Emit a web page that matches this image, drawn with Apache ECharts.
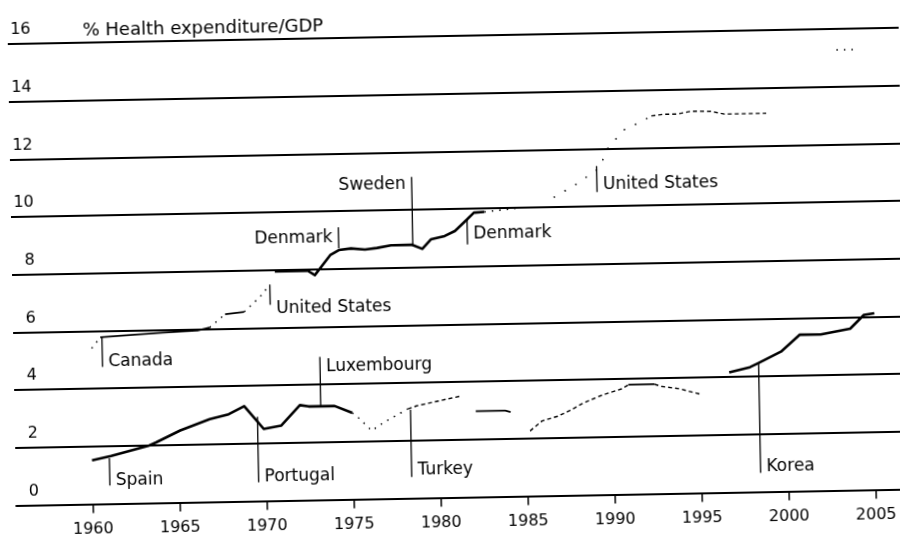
<!DOCTYPE html>
<html>
<head>
<meta charset="utf-8">
<script src="https://cdn.jsdelivr.net/npm/echarts@6/dist/echarts.min.js"></script>
<style>
html,body{margin:0;padding:0;background:#fff;overflow:hidden;width:900px;height:538px;}
#c{position:absolute;left:0;top:0;width:920px;height:538px;transform:rotate(-1.05deg);transform-origin:450px 269px;}
</style>
</head>
<body>
<div id="c"></div>
<script>
// ---- data (year, % of GDP) ----
const tickYears = [1960, 1965, 1970, 1975, 1980, 1985, 1990, 1995, 2000, 2005];

// highest spender
const canadaDots = [[1960.1, 5.4], [1960.5, 5.7]];
const canadaLine = [[1960.6, 5.78], [1962.6, 5.85], [1964.2, 5.9], [1966.2, 5.95], [1966.9, 6.05]];
const usEarlyDots1 = [[1966.9, 6.05], [1967.8, 6.5]];
const usEarlyLine = [[1967.8, 6.5], [1968.9, 6.57]];
const usEarlyDots2 = [[1968.9, 6.57], [1969.5, 6.9], [1970.1, 7.25], [1970.3, 7.5]];
const nordicLine = [[1970.7, 7.95], [1972.6, 7.95], [1973.0, 7.8], [1973.9, 8.48], [1974.4, 8.65], [1975.1, 8.7], [1975.9, 8.65], [1976.6, 8.7], [1977.4, 8.78], [1978.6, 8.79], [1979.2, 8.64], [1979.7, 8.96], [1980.5, 9.07], [1981.1, 9.24], [1981.8, 9.63], [1982.2, 9.86], [1982.8, 9.88]];
const nordicDots = [[1982.8, 9.88], [1984.9, 10.0]];
const usLateSparse = [[1986.8, 10.34], [1988.0, 10.74], [1989.4, 11.3], [1989.7, 11.65], [1990.0, 12.05], [1991.0, 12.68], [1991.8, 12.87], [1992.5, 13.1]];
const usLateDense = [[1992.5, 13.1], [1993.2, 13.15], [1994.0, 13.15], [1994.8, 13.24], [1995.9, 13.22], [1996.7, 13.12], [1999.1, 13.12]];
const usLatest = [[2003.2, 15.27], [2004.4, 15.27]];

// lowest spender
const spainToLuxLine = [[1960.0, 1.52], [1961.1, 1.66], [1963.3, 2.0], [1963.7, 2.1], [1965.1, 2.5], [1966.8, 2.87], [1967.9, 3.03], [1968.8, 3.3], [1969.9, 2.5], [1970.9, 2.6], [1972.0, 3.3], [1972.5, 3.25], [1974.0, 3.25], [1975.0, 3.0]];
const luxDots = [[1975.0, 3.0], [1975.4, 2.8], [1976.1, 2.37], [1976.8, 2.65], [1978.2, 3.1]];
const turkeyEarly = [[1978.2, 3.1], [1978.7, 3.2], [1979.1, 3.25], [1981.3, 3.52]];
const turkeyMid = [[1982.1, 2.98], [1983.8, 2.98], [1984.1, 2.93]];
const turkeyLate = [[1985.2, 2.26], [1985.9, 2.6], [1986.8, 2.75], [1987.6, 2.97], [1988.3, 3.2], [1989.4, 3.46], [1990.5, 3.66], [1990.9, 3.8]];
const turkeyTop = [[1990.9, 3.8], [1992.4, 3.8]];
const turkeyEnd = [[1992.4, 3.8], [1992.8, 3.72], [1993.8, 3.63], [1995.0, 3.43]];
const koreaLine = [[1996.7, 4.16], [1997.9, 4.33], [1998.4, 4.47], [1999.7, 4.85], [2000.8, 5.43], [2002.0, 5.42], [2003.7, 5.6], [2004.5, 6.07], [2005.1, 6.12]];

// country labels: name, year, leader from, leader to, label value, side
const annotations = [
  ['Canada', 1960.7, 4.75, 5.79, 4.92, 'right'],
  ['United States', 1970.4, 6.8, 7.5, 6.66, 'right'],
  ['Denmark', 1974.4, 8.71, 9.44, 9.09, 'left'],
  ['Sweden', 1978.66, 8.74, 11.14, 10.9, 'left'],
  ['Denmark', 1981.8, 8.76, 9.64, 9.12, 'right'],
  ['United States', 1989.3, 10.5, 11.4, 10.75, 'right'],
  ['Spain', 1961.0, 0.64, 1.58, 0.81, 'right'],
  ['Portugal', 1969.55, 0.65, 2.92, 0.83, 'right'],
  ['Luxembourg', 1973.2, 3.22, 4.96, 4.6, 'right'],
  ['Turkey', 1978.35, 0.74, 3.07, 0.98, 'right'],
  ['Korea', 1998.4, 0.66, 4.49, 0.87, 'right']
];

// ---- styles ----
const FONT = 'DejaVu Sans';
const STY = {
  thick: { width: 2.6, type: 'solid' },
  solid: { width: 1.8, type: 'solid' },
  dots: { width: 1.5, type: [1.5, 6] },
  sparse: { width: 1.5, type: [1.5, 11] },
  dashes: { width: 1.4, type: [4, 3] }
};
const segments = [
  [canadaDots, 'dots'], [canadaLine, 'solid'], [usEarlyDots1, 'dots'], [usEarlyLine, 'solid'],
  [usEarlyDots2, 'dots'], [nordicLine, 'thick'], [nordicDots, 'dots'], [usLateSparse, 'sparse'],
  [usLateDense, 'dashes'], [usLatest, 'dots'],
  [spainToLuxLine, 'thick'], [luxDots, 'dots'], [turkeyEarly, 'dashes'], [turkeyMid, 'solid'],
  [turkeyLate, 'dashes'], [turkeyTop, 'solid'], [turkeyEnd, 'dashes'], [koreaLine, 'thick']
];

const series = [];
segments.forEach(([d, s]) => {
  series.push({
    type: 'line', data: d, symbol: 'none', silent: true, z: 3,
    lineStyle: Object.assign({ color: '#000', cap: 'butt', join: 'round' }, STY[s])
  });
});
annotations.forEach(([name, yr, a, b]) => {
  series.push({
    type: 'line', data: [[yr, a], [yr, b]], symbol: 'none', silent: true, z: 4,
    lineStyle: { color: '#000', width: 1.3 }
  });
});
series.push({
  type: 'scatter', symbolSize: 0, silent: true, z: 5,
  itemStyle: { color: '#000', opacity: 1 },
  data: annotations.map(([name, yr, a, b, lv, side]) => ({
    name: name, value: [yr, lv],
    label: { position: side }
  })),
  label: {
    show: true, distance: 6, formatter: p => p.name, opacity: 1,
    fontFamily: FONT, fontSize: 17, color: '#000', textBorderWidth: 0
  }
});

const chart = echarts.init(document.getElementById('c'));
chart.setOption({
  backgroundColor: '#fff',
  animation: false,
  title: {
    text: '% Health expenditure/GDP', left: 87, top: 15, padding: 0,
    textStyle: { fontFamily: FONT, fontSize: 18, fontWeight: 'normal', color: '#000' }
  },
  grid: { left: 12, right: 17, top: 36, bottom: 40.4 },
  xAxis: {
    type: 'value', min: 1955.6, max: 2006.8,
    axisLine: { show: true, onZero: false, lineStyle: { color: '#000', width: 1.8 } },
    axisTick: { show: true, customValues: tickYears, length: 9, lineStyle: { color: '#000', width: 1.5 } },
    axisLabel: { customValues: tickYears, formatter: v => String(v), margin: 17, fontFamily: FONT, fontSize: 16, color: '#000' },
    splitLine: { show: false }
  },
  yAxis: {
    type: 'value', min: 0, max: 16, interval: 2,
    axisLine: { show: false }, axisTick: { show: false },
    axisLabel: {
      inside: true, margin: 23, align: 'right', verticalAlign: 'bottom',
      padding: [0, 0, 6, 0], fontFamily: FONT, fontSize: 16, color: '#000'
    },
    splitLine: { show: true, lineStyle: { color: '#000', width: 1.8 } }
  },
  series: series
});
</script>
</body>
</html>
